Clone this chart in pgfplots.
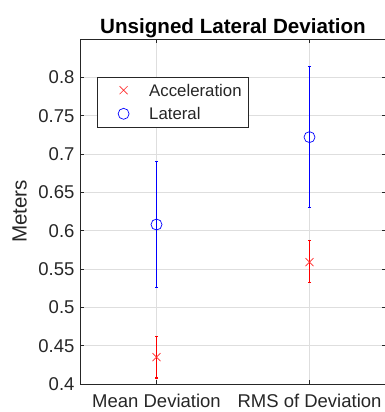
\documentclass[border=0pt]{standalone}
\usepackage{pgfplots}
\pgfplotsset{compat=1.18}
\usepackage{fontspec}
\setmainfont{Liberation Sans}
\begin{document}
\begin{tikzpicture}
\begin{axis}[
  name=ax,
  scale only axis,
  width=306pt, height=345pt,
  xmin=0.5, xmax=2.5,
  ymin=0.4, ymax=0.85,
  xtick={1,2},
  xticklabels={Mean Deviation, RMS of Deviation},
  ytick={0.4,0.45,0.5,0.55,0.6,0.65,0.7,0.75,0.8},
  grid=major,
  major grid style={color=black!13, line width=0.6pt},
  axis line style={color=black!85, line width=0.6pt},
  every tick/.style={color=black!85, line width=0.6pt},
  major tick length=4pt,
  tick align=inside,
  tick label style={font=\fontsize{18.5}{22}\selectfont, text=black!85},
  /pgf/number format/assume math mode=true,
  yticklabel style={/pgf/number format/fixed, /pgf/number format/precision=2, xshift=-2pt},
  xticklabel style={yshift=-7pt},
  title={Unsigned Lateral Deviation},
  every axis title/.style={at={(0.5,1)}, anchor=base, yshift=5pt, font=\bfseries\fontsize{20.6}{24}\selectfont, text=black},
  ylabel={Meters},
  every axis y label/.style={at={(axis description cs:-0.1742,0.5)}, rotate=90, anchor=base, font=\fontsize{20.6}{24}\selectfont, text=black!85},
  legend style={at={(axis description cs:0.0546,0.8907)}, anchor=north west, draw=black!85, line width=0.6pt, fill=white,
    inner xsep=7pt, inner ysep=7.2pt, row sep=11.6pt, font=\fontsize{16.8}{20}\selectfont, text=black!85,
    nodes={inner sep=0pt, text height=12pt, text depth=0pt}},
  legend cell align=left,
  legend image code/.code={\path[draw=none,fill=none] (0pt,0pt) -- (45.2pt,0pt); \draw[#1,only marks] plot coordinates {(19.6pt,0pt)};},
]
% error bars (low and high ends) drawn as data lines
\addplot[color=red, line width=1.2pt, mark=-, mark size=1.6pt, mark options={line width=1.3pt}, forget plot]
  coordinates {(1,0.408) (1,0.462)};
\addplot[color=red, line width=1.2pt, mark=-, mark size=1.6pt, mark options={line width=1.3pt}, forget plot]
  coordinates {(2,0.532) (2,0.587)};
\addplot[color=blue, line width=1.2pt, mark=-, mark size=1.6pt, mark options={line width=1.3pt}, forget plot]
  coordinates {(1,0.526) (1,0.690)};
\addplot[color=blue, line width=1.2pt, mark=-, mark size=1.6pt, mark options={line width=1.3pt}, forget plot]
  coordinates {(2,0.630) (2,0.814)};
% means
\addplot[only marks, mark=x, mark size=5.7pt, draw=red!85, mark options={line width=0.6pt, draw=red!85}]
  coordinates {(1,0.435) (2,0.559)};
\addlegendentry{Acceleration}
\addplot[only marks, mark=o, mark size=5.5pt, draw=blue, mark options={line width=0.7pt, draw=blue}]
  coordinates {(1,0.608) (2,0.722)};
\addlegendentry{Lateral}
\end{axis}
\pgfresetboundingbox
\path[use as bounding box] ([xshift=-80pt,yshift=-28pt]ax.south west) rectangle ([xshift=305pt,yshift=39pt]ax.north west);
\end{tikzpicture}
\end{document}
